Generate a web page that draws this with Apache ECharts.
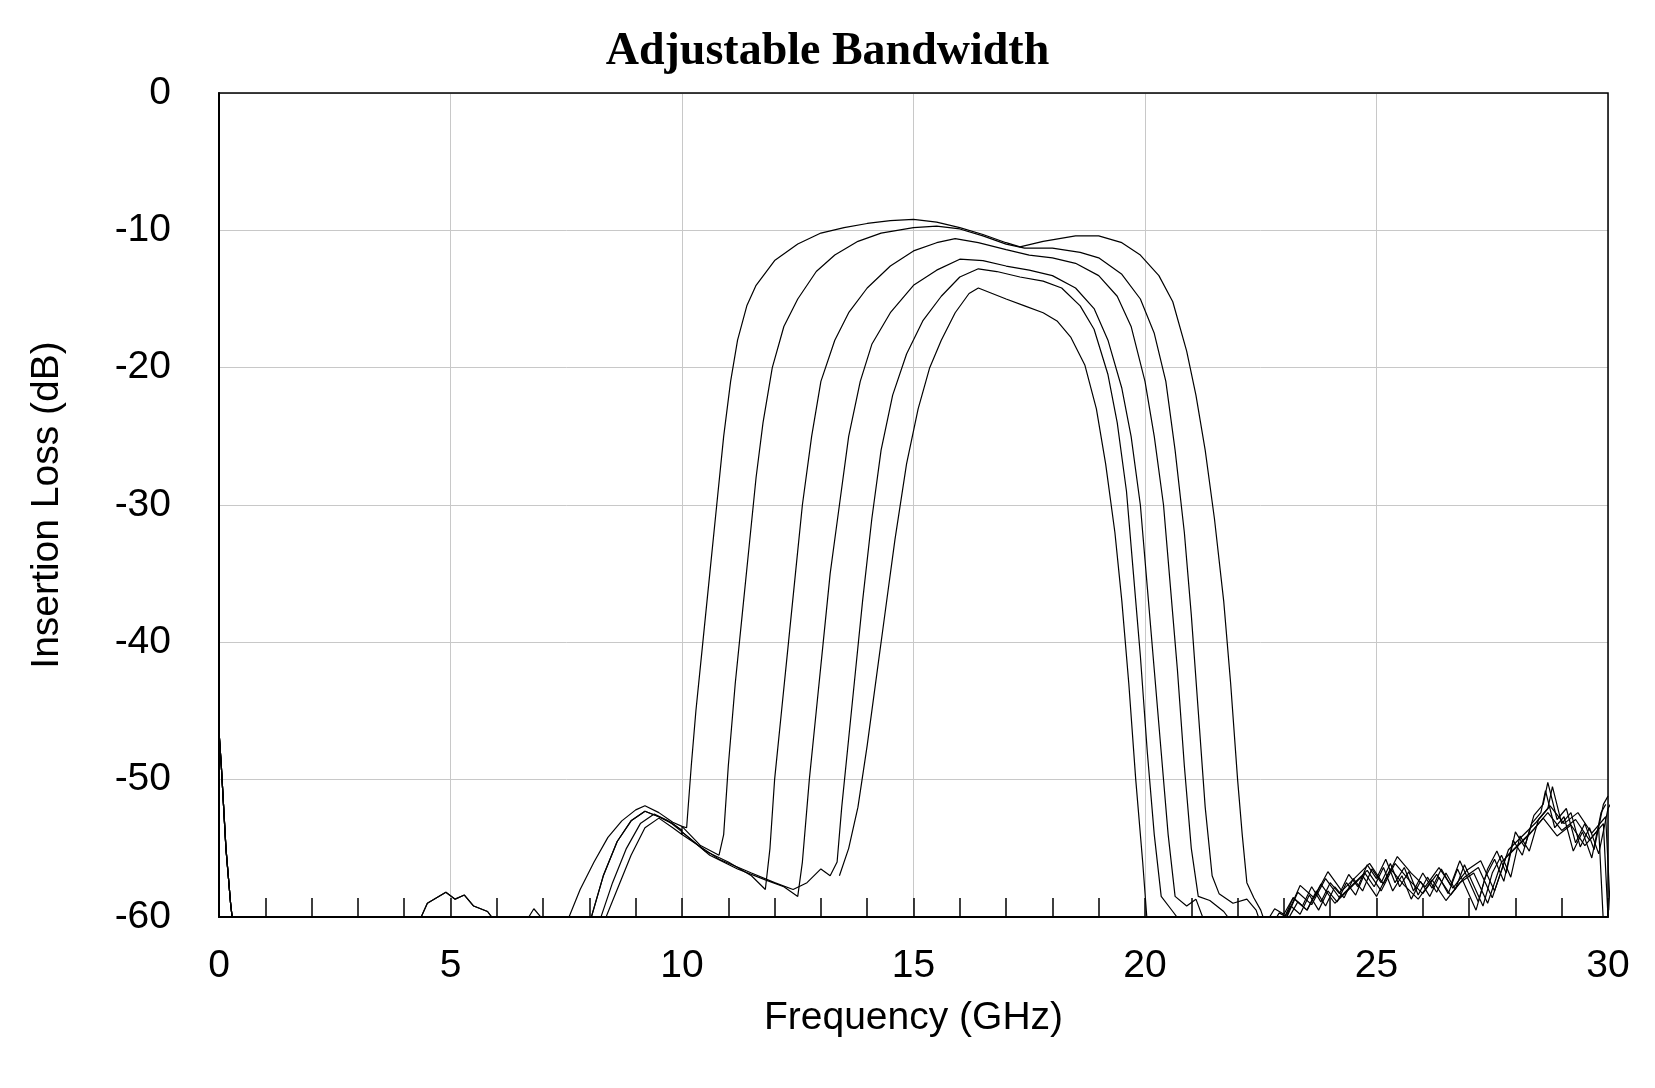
<!DOCTYPE html>
<html><head><meta charset="utf-8">
<script src="https://cdn.jsdelivr.net/npm/echarts@6/dist/echarts.min.js"></script>
<style>html,body{margin:0;background:#fff}#c{width:1655px;height:1088px}</style>
</head><body><div id="c"></div>
<script>
// Shared stopband segments [GHz, dB]
const lowEnd = [[0,-46.5],[0.05,-49],[0.1,-52],[0.15,-55],[0.2,-57],[0.25,-59],[0.3,-60.5]];
const bump5 = [[4.3,-60.5],[4.5,-59],[4.7,-58.6],[4.9,-58.2],[5.1,-58.7],[5.3,-58.4],[5.5,-59.2],[5.8,-59.6],[6.0,-60.5]];
const bump7 = [[6.6,-60.5],[6.8,-59.4],[7.0,-60.2]];
const humpA = [[7.5,-60.5],[7.8,-58],[8.1,-56],[8.4,-54.2],[8.7,-53],[9.0,-52.2],[9.2,-51.9],[9.5,-52.4],[9.8,-53.1],[10.0,-53.4]];
const humpB = [[8.0,-60.5],[8.3,-57],[8.6,-54.5],[8.9,-53],[9.2,-52.3],[9.5,-52.7],[9.8,-53.2],[10.0,-53.7]];
const humpC = [[8.2,-60.5],[8.5,-57.5],[8.8,-55],[9.1,-53.2],[9.4,-52.5],[9.7,-53],[10.0,-53.8]];
const humpD = [[8.3,-60.5],[8.6,-58],[8.9,-55.5],[9.2,-53.5],[9.5,-52.8],[9.8,-53.5],[10.0,-54]];
const upper = [[22.6,-60.5],[22.8,-59.4],[23.0,-59.8],[23.2,-58.6],[23.4,-59.2],[23.6,-57.8],[23.8,-58.9],[24.0,-57.5],[24.2,-58.3],[24.4,-56.9],[24.6,-57.8],[24.8,-56.2],[25.0,-57.2],[25.2,-55.8],[25.4,-57.5],[25.6,-56.4],[25.8,-58.1],[26.0,-56.8],[26.2,-57.9],[26.4,-56.5],[26.6,-57.7],[26.8,-55.9],[27.0,-57.4],[27.2,-58.9],[27.4,-56.5],[27.6,-55.2],[27.8,-56.8],[28.0,-53.8],[28.2,-54.9],[28.4,-52.6],[28.6,-51.8],[28.7,-50.2],[28.9,-52.9],[29.1,-52.1],[29.3,-54.6],[29.5,-53.2],[29.7,-55.1],[29.9,-51.8],[30.0,-51.2]];
const upperB = [[23.0,-60.5],[23.3,-58.2],[23.6,-59.1],[23.9,-57.2],[24.2,-58.6],[24.5,-57.6],[24.8,-56.6],[25.1,-58.1],[25.4,-56.1],[25.7,-57.3],[26.0,-58.3],[26.3,-56.9],[26.6,-58.4],[26.9,-57.1],[27.2,-56.4],[27.5,-58.6],[27.8,-55.6],[28.1,-54.6],[28.4,-53.6],[28.7,-52.4],[29.0,-53.7],[29.3,-52.9],[29.6,-54.4],[29.9,-53.2],[30.0,-60]];
// Passband curves (widest to narrowest)
const c1 = [[10.1,-53.5],[10.2,-49],[10.3,-45],[10.45,-40],[10.6,-35],[10.75,-30],[10.9,-25],[11.05,-21],[11.2,-18],[11.4,-15.5],[11.6,-14],[12.0,-12.2],[12.5,-11],[13.0,-10.2],[13.5,-9.8],[14.0,-9.5],[14.5,-9.3],[15.0,-9.2],[15.5,-9.4],[16.0,-9.8],[16.5,-10.3],[17.0,-10.9],[17.3,-11.2],[17.8,-10.8],[18.5,-10.4],[19.0,-10.4],[19.5,-10.9],[19.9,-11.8],[20.3,-13.3],[20.6,-15.2],[20.9,-18.8],[21.1,-22],[21.3,-26],[21.5,-31],[21.7,-37],[21.85,-43],[22.0,-50],[22.1,-54],[22.2,-57.5],[22.35,-58.6],[22.5,-59.5],[22.6,-60.5]];
const c2 = [[10.0,-53.4],[10.4,-54.8],[10.8,-55.5],[10.9,-54],[11.0,-49],[11.15,-43],[11.3,-38],[11.45,-33],[11.6,-28],[11.75,-24],[11.95,-20],[12.2,-17],[12.5,-15],[12.9,-13],[13.3,-11.8],[13.8,-10.8],[14.3,-10.2],[15.0,-9.8],[15.5,-9.7],[16.0,-9.9],[16.5,-10.4],[17.0,-11],[17.4,-11.3],[18.0,-11.3],[18.6,-11.6],[19.0,-12],[19.5,-13.2],[19.9,-15],[20.2,-17.5],[20.45,-21],[20.65,-26],[20.85,-32],[21.0,-38],[21.15,-45],[21.3,-52],[21.45,-57],[21.6,-58.3],[21.9,-59],[22.2,-58.7],[22.4,-59.5],[22.5,-60.5]];
const c3 = [[10.0,-53.7],[10.5,-55.2],[11.0,-56],[11.5,-57],[11.8,-58],[11.9,-55],[12.0,-50],[12.15,-45],[12.3,-40],[12.45,-35],[12.6,-30],[12.8,-25],[13.0,-21],[13.3,-18],[13.6,-16],[14.0,-14.2],[14.5,-12.6],[15.0,-11.5],[15.5,-10.9],[15.9,-10.6],[16.4,-10.9],[17.0,-11.4],[17.5,-11.8],[18.0,-12],[18.5,-12.4],[19.0,-13.3],[19.4,-14.8],[19.7,-17],[20.0,-21],[20.2,-25],[20.4,-30],[20.55,-36],[20.7,-42],[20.85,-49],[21.0,-55],[21.15,-58.5],[21.4,-58.8],[21.7,-59.6],[21.9,-60.5]];
const c4 = [[10.0,-53.8],[10.6,-55.5],[11.2,-56.5],[11.8,-57.3],[12.2,-57.8],[12.5,-58.5],[12.6,-56],[12.75,-50],[12.9,-45],[13.05,-40],[13.2,-35],[13.4,-30],[13.6,-25],[13.85,-21],[14.1,-18.3],[14.5,-16],[15.0,-14],[15.5,-12.9],[16.0,-12.1],[16.5,-12.2],[17.0,-12.6],[17.5,-12.9],[18.0,-13.3],[18.5,-14.2],[18.9,-15.7],[19.2,-18],[19.5,-21.5],[19.7,-25],[19.9,-30],[20.05,-36],[20.2,-42],[20.35,-48],[20.5,-54],[20.65,-58.5],[20.9,-59.2],[21.1,-58.7],[21.3,-60.5]];
const c5 = [[10.0,-54],[10.8,-55.8],[11.5,-56.8],[12.0,-57.5],[12.4,-58],[12.7,-57.5],[13.0,-56.5],[13.2,-57],[13.35,-56],[13.45,-52],[13.6,-47],[13.75,-42],[13.9,-37],[14.1,-31],[14.3,-26],[14.55,-22],[14.85,-19],[15.2,-16.6],[15.6,-14.8],[16.0,-13.4],[16.4,-12.8],[16.8,-13],[17.3,-13.4],[17.8,-13.7],[18.2,-14.2],[18.6,-15.5],[18.9,-17.2],[19.2,-20.5],[19.4,-24],[19.6,-29],[19.75,-35],[19.9,-41],[20.05,-48],[20.2,-54],[20.35,-58.5],[20.6,-59.6],[20.8,-60.5]];
const c6 = [[13.4,-57],[13.6,-55],[13.8,-52],[14.0,-47.5],[14.2,-42.5],[14.4,-37.5],[14.6,-32.5],[14.85,-27],[15.1,-23],[15.35,-20],[15.6,-18],[15.9,-16],[16.2,-14.6],[16.4,-14.2],[16.7,-14.6],[17.0,-15],[17.4,-15.5],[17.8,-16],[18.1,-16.6],[18.4,-17.8],[18.7,-19.8],[18.95,-23],[19.15,-27],[19.35,-32],[19.5,-37],[19.65,-43],[19.8,-50],[19.95,-56],[20.05,-60.5]];

const join = (...segs) => segs.reduce((a, s, i) => i ? a.concat([null], s) : a.concat(s), []);
const curves = [
  join(lowEnd, bump5, bump7, humpA.concat(c1), upper),
  join(lowEnd, bump5, humpB.concat(c2), upperB),
  join(lowEnd, humpC.concat(c3), upper.map(p=>[p[0]-0.05,p[1]-0.6])),
  join(lowEnd, humpD.concat(c4), upperB.map(p=>[p[0]+0.05,p[1]+0.5])),
  join(lowEnd, humpB.concat(c5), upper.map(p=>[p[0]+0.1,p[1]-0.3])),
  join(lowEnd, c6, upperB.map(p=>[p[0]-0.1,p[1]-0.4]))
];

const chart = echarts.init(document.getElementById('c'));
const font = 'Liberation Sans, Arial, sans-serif';
chart.setOption({
  animation:false,
  title:{text:'Adjustable Bandwidth',left:'center',top:24,
    textStyle:{fontFamily:'Liberation Serif, Times New Roman, serif',fontWeight:'bold',fontSize:46,color:'#000'}},
  grid:{left:219,right:47,top:93,bottom:171},
  xAxis:{type:'value',min:0,max:30,interval:5,name:'Frequency (GHz)',nameLocation:'middle',nameGap:82,
    nameTextStyle:{fontFamily:font,fontSize:39,color:'#000'},
    axisLine:{show:true,onZero:false,lineStyle:{color:'#000',width:2}},
    axisTick:{show:true,inside:true,length:19,lineStyle:{color:'#000',width:1.5}},
    minorTick:{show:true,splitNumber:5,length:19,lineStyle:{color:'#000',width:1.5}},
    axisLabel:{fontFamily:font,fontSize:39,color:'#000',margin:30},
    splitLine:{show:true,lineStyle:{color:'#c8c8c8',width:1}}},
  yAxis:{type:'value',min:-60,max:0,interval:10,name:'Insertion Loss (dB)',nameLocation:'middle',nameGap:152,
    nameTextStyle:{fontFamily:font,fontSize:39,color:'#000'},
    axisLine:{show:true,lineStyle:{color:'#000',width:2}},axisTick:{show:false},
    axisLabel:{fontFamily:font,fontSize:39,color:'#000',margin:48},
    splitLine:{show:true,lineStyle:{color:'#c8c8c8',width:1}}},
  series: curves.map(d=>({type:'line',data:d,showSymbol:false,clip:true,connectNulls:false,
    lineStyle:{color:'#000',width:1.2}}))
});
chart.setOption({graphic:[{type:'rect',shape:{x:219,y:93,width:1389,height:824},
  style:{fill:'none',stroke:'#000',lineWidth:1.5},silent:true,z:100}]});
</script></body></html>
